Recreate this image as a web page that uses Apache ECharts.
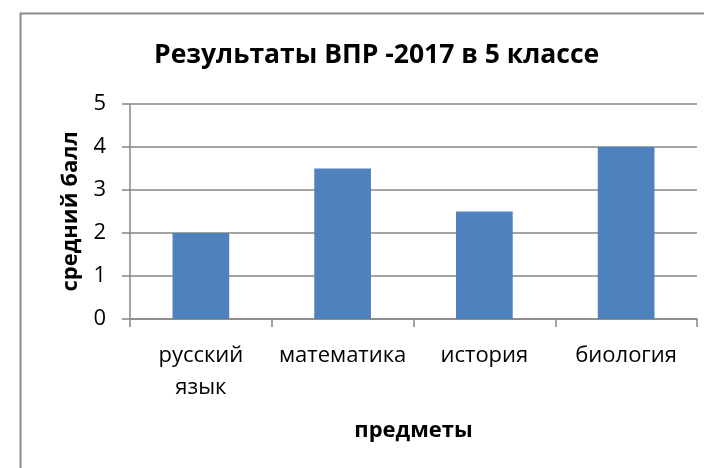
<!DOCTYPE html>
<html><head><meta charset="utf-8">
<script src="https://cdn.jsdelivr.net/npm/echarts@6/dist/echarts.min.js"></script>
<style>html,body{margin:0;padding:0;background:#fff}#c{width:704px;height:468px}</style>
</head><body><div id="c"></div>
<script>
const titleText = 'Результаты ВПР -2017 в 5 классе';
const categories = ['русский\nязык', 'математика', 'история', 'биология'];
const values = [2, 3.5, 2.5, 4];
const yTicks = [0, 1, 2, 3, 4, 5];
const xAxisName = 'предметы';
const yAxisName = 'средний балл';

const font = '"Open Sans", "Noto Sans", sans-serif';
const chart = echarts.init(document.getElementById('c'), null, {renderer: 'canvas'});
chart.setOption({
  animation: false,
  backgroundColor: '#fff',
  graphic: [{
    type: 'rect', left: 18, top: 11, silent: true,
    shape: {width: 720, height: 480},
    style: {fill: 'none', stroke: '#8c8c8c', lineWidth: 2}
  }],
  title: {
    text: titleText, left: 149, top: 37,
    textStyle: {fontFamily: font, fontWeight: 'bold', fontSize: 26.5, color: '#000'}
  },
  grid: {left: 130, right: 7, top: 104, bottom: 149, containLabel: false},
  xAxis: {
    type: 'category', data: categories,
    name: xAxisName, nameLocation: 'middle', nameGap: 101,
    nameTextStyle: {fontFamily: font, fontWeight: 'bold', fontSize: 22, color: '#000'},
    axisLine: {lineStyle: {color: '#868686', width: 1.5}},
    axisTick: {show: true, length: 8, alignWithLabel: false, lineStyle: {color: '#868686', width: 1.5}},
    axisLabel: {fontFamily: font, fontSize: 22, color: '#000', margin: 21, lineHeight: 32, interval: 0}
  },
  yAxis: {
    type: 'value', min: yTicks[0], max: yTicks[yTicks.length - 1], interval: 1,
    name: yAxisName, nameLocation: 'middle', nameGap: 48, nameRotate: 90,
    nameTextStyle: {fontFamily: font, fontWeight: 'bold', fontSize: 22, color: '#000'},
    axisLine: {show: true, lineStyle: {color: '#868686', width: 1.5}},
    axisTick: {show: true, length: 8, lineStyle: {color: '#868686', width: 1.5}},
    splitLine: {show: true, lineStyle: {color: '#868686', width: 1.5}},
    axisLabel: {fontFamily: font, fontSize: 22, color: '#000', margin: 24}
  },
  series: [{
    type: 'bar', data: values, barWidth: '40%',
    itemStyle: {color: '#4F81BD'}
  }]
});
</script></body></html>
